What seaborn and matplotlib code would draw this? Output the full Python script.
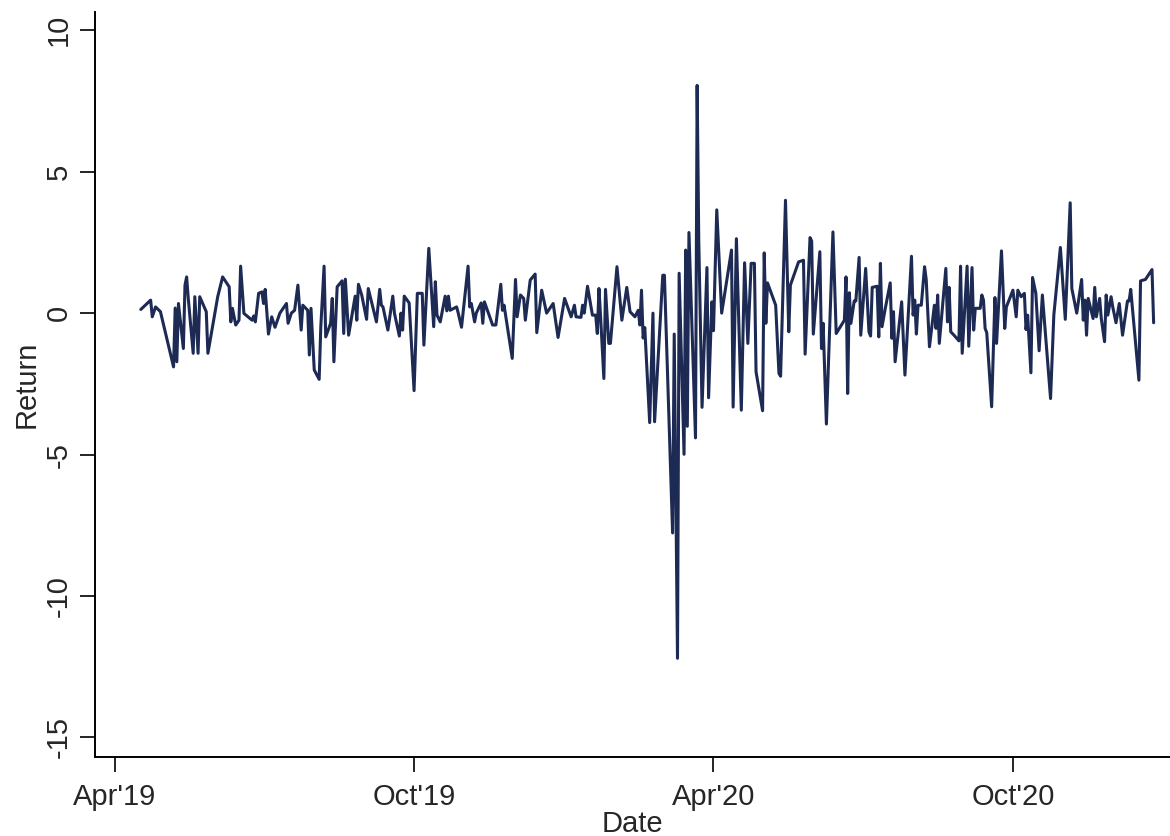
import pandas as pd
import seaborn as sns
import matplotlib.pyplot as plt

# 日期: 以 2019-04-01 为起点的天数
start = '2019-04-01'
day = [16, 22, 23, 25, 28, 36, 37, 38, 39, 42, 43, 44, 45, 48, 49, 51, 52, 56, 57, 63,
       66, 70, 71, 72, 74, 76, 77, 79, 84, 85, 86, 88, 90, 91, 92, 94, 96, 98, 101, 105,
       106, 108, 110, 112,
       114, 115, 118, 119, 120, 122, 125, 126, 128, 129, 132, 133, 134, 136, 139, 140, 141, 143, 147, 148,
       149, 151, 154, 155, 160, 162, 163, 164, 167, 170, 171, 174, 175, 176, 177, 180, 183, 185, 188, 189,
       192, 195, 196, 197, 199, 202, 203, 204, 205, 209, 210, 212, 216,
       217, 218, 220, 221, 224, 225, 226, 231, 233, 236, 237, 238, 243, 245, 246, 248, 250, 251, 254, 257,
       258, 261, 264, 268, 271, 275, 279, 281, 282, 285, 286, 287, 289, 292, 294, 295, 296, 297, 299, 300,
       302, 303, 307, 310, 313, 315, 318, 320,
       321, 322, 323, 324, 327, 329, 330, 335, 336, 341, 342, 344, 345, 348, 349, 350, 351, 355, 356, 357,
       359, 362, 363, 365, 366, 368, 371, 377, 378, 380,
       383, 385, 387, 389, 391, 392, 396, 397, 398, 399, 404, 406, 407, 410, 412, 413, 418, 421, 422, 425,
       426, 427, 431, 432, 433, 435, 439, 441, 446, 447, 448, 449, 450, 452, 453, 455, 456, 459, 461, 462,
       463, 466,
       467, 468, 469, 471, 474, 475, 476, 477, 481, 483, 487, 488, 489, 490, 491, 493, 495, 496, 498, 501,
       502, 503, 504, 508, 509, 510, 511, 513, 516, 517, 518, 521, 522, 524, 525, 526, 529, 530, 531, 532,
       533, 536, 538, 539, 542, 544, 545, 549,
       551, 552, 554, 556, 557, 558, 560, 561, 563, 565, 567, 572, 574, 578, 581, 584, 585, 588, 591, 592,
       593, 594, 595, 598, 599, 600, 602, 603, 605, 606, 607, 609, 610, 612, 614, 616, 619, 620, 621, 626,
       627, 630, 634, 635]

# 收益率
ret = [0.13, 0.46, -0.13, 0.22, 0.05, -1.90, 0.18, -1.72, 0.34, -1.25, 0.99, 1.28, 0.52, -1.42, 0.58, -1.42, 0.58, 0.05, -1.42, 0.58,
       1.28, 0.93, -0.31, 0.17, -0.42, -0.25, 1.66, -0.01, -0.25, -0.10, -0.31, 0.70, 0.75, 0.34, 0.84, -0.74, -0.13, -0.50, 0.00, 0.34,
       -0.36, 0.00, 0.10, 0.99,
       -0.60, 0.28, 0.10, -1.48, 0.17, -2.01, -2.34, -0.48, 1.66, -0.84, -0.36, 0.52, -1.72, 0.93, 1.14, -0.72, 1.20, -0.78, 0.60, -0.25,
       1.02, 0.64, -0.22, 0.87, -0.31, 0.84, 0.28, 0.22, -0.60, 0.60, 0.00, -0.81, 0.00, -0.60, 0.60, 0.36, -2.74, 0.70, 0.70, -1.13,
       2.29, -0.48, 1.11, -0.07, -0.31, 0.60, 0.08, 0.60, 0.10, 0.22, 0.00, -0.50, 1.66,
       0.22, 0.34, -0.31, 0.00, 0.36, -0.36, 0.40, -0.42, -0.42, 1.02, 0.10, 0.28, -1.60, 1.19, -0.13, 0.64, 0.52, -0.25, 1.17, 1.38,
       -0.69, 0.81, 0.00, 0.34, -0.86, 0.52, -0.13, 0.28, -0.13, -0.15, 0.28, 0.00, 0.95, -0.07, -0.07, -0.72, 0.87, -0.13, -2.31, 0.84,
       -1.07, -1.07, 1.64, -0.25, 0.91, 0.05, -0.13, 0.10,
       -0.42, 0.81, -0.88, -0.51, -3.87, 0.00, -3.84, 1.34, 1.34, -7.77, -0.74, -12.20, 1.41, -4.99, 2.23, -4.00, 2.85, -4.41, 8.05, 2.56,
       -3.33, 1.61, -2.99, 0.40, -0.62, 3.65, 0.00, 2.23, -3.32, 2.63,
       -3.43, 1.78, -1.07, 1.76, 1.76, -2.07, -3.45, 2.13, -0.36, 1.07, 0.28, -2.13, -2.23, 3.99, -0.66, 0.99, 1.81, 1.87, -1.45, 2.67,
       2.55, -0.74, 2.17, -1.25, -0.36, -3.92, 2.87, -0.72, -0.25, 1.28, -2.84, 0.72, -0.36, 0.43, 0.43, 1.97, -0.78, 1.58, -0.66, -0.81,
       0.91, 0.95,
       -0.84, 1.76, -0.48, 0.17, 1.07, -0.89, 0.05, -1.72, 0.40, -2.19, 2.01, -0.07, 0.46, -0.74, 0.28, 0.28, 1.64, 1.19, -1.19, 0.28,
       -0.54, 0.64, -1.07, 1.58, -0.31, 0.91, -0.66, -0.78, -0.98, 1.66, -1.42, 1.66, -1.17, 1.61, -0.60, 0.17, 0.17, 0.64, 0.46, -0.54,
       -0.69, -3.31, 0.55, -1.07, 2.20, -0.54, 0.22, 0.81,
       -0.13, 0.81, 0.58, 0.70, -0.58, -0.07, -2.11, 1.26, 0.70, -1.33, 0.64, -3.02, -0.07, 2.32, -0.22, 3.90, 0.87, 0.00, 1.19, -0.25,
       0.46, -0.78, 0.52, -0.19, 0.91, -0.13, 0.52, -0.19, -1.01, 0.64, -0.07, 0.58, 0.22, -0.34, 0.34, -0.78, 0.43, 0.43, 0.84, -2.37,
       1.14, 1.19, 1.54, -0.34]

tick_dates = ['2019-04-01', '2019-10-01', '2020-04-01', '2020-10-01']
tick_labels = ["Apr'19", "Oct'19", "Apr'20", "Oct'20"]
y_ticks = [-15, -10, -5, 0, 5, 10]

df = pd.DataFrame({'Date': pd.Timestamp(start) + pd.to_timedelta(day, unit='D'), 'Return': ret})

sns.set_style('ticks')
plt.rcParams['font.family'] = ['Liberation Sans', 'DejaVu Sans']

fig = plt.figure(figsize=(11.7, 8.36), dpi=100)
ax = fig.add_axes([0.0812, 0.0945, 0.9188, 0.891])

sns.lineplot(data=df, x='Date', y='Return', color='#1d2a54', linewidth=2.2, ax=ax)

ax.set_xlim(pd.Timestamp('2019-03-20'), pd.Timestamp('2021-01-05'))
ax.set_ylim(-15.69, 10.64)
ax.set_xticks(pd.to_datetime(tick_dates))
ax.set_xticklabels(tick_labels)
ax.set_yticks(y_ticks)
ax.set_yticklabels([str(t) for t in y_ticks], rotation=90, va='center')

ax.tick_params(axis='both', labelsize=21, length=11, width=1.2, color='black')
ax.tick_params(axis='x', pad=8)
ax.tick_params(axis='y', pad=5)
ax.set_xlabel('Date', fontsize=21)
ax.set_ylabel('Return', fontsize=21)
ax.xaxis.set_label_coords(0.5, -0.071)
ax.yaxis.set_label_coords(-0.051, 0.5)

sns.despine(ax=ax)
for s in ['left', 'bottom']:
    ax.spines[s].set_linewidth(1.4)
    ax.spines[s].set_color('black')

fig.savefig('out.png', dpi=100)
